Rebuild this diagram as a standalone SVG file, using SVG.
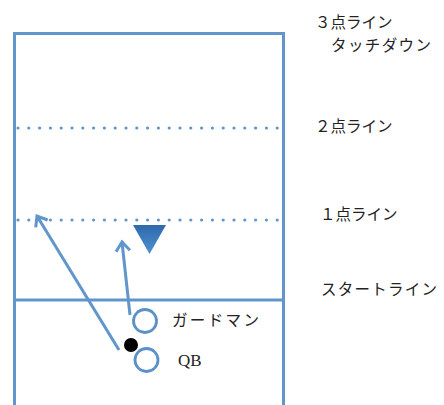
<svg xmlns="http://www.w3.org/2000/svg" width="444" height="405" viewBox="0 0 444 405">
<defs>
<style>
.ln{fill:none;stroke:#6096cc;stroke-width:3}
.dot{fill:none;stroke:#5f95cd;stroke-width:3.2;stroke-dasharray:0 10.8;stroke-linecap:round}
.lbl{font-family:"Liberation Serif","Noto Sans CJK JP",serif;font-size:15.5px;fill:#222}
.pl{fill:#fff;stroke:#5b90c8;stroke-width:2.8}
</style>
<linearGradient id="tg" x1="0" y1="0" x2="0" y2="1">
<stop offset="0" stop-color="#2e6aab"/>
<stop offset="1" stop-color="#4f8fd2"/>
</linearGradient>
<marker id="ah" markerUnits="userSpaceOnUse" markerWidth="24" markerHeight="24" refX="12" refY="12" orient="auto">
<path d="M3,5 L12,12 L3,19" fill="none" stroke="#6096cc" stroke-width="3" stroke-linejoin="miter"/>
</marker>
</defs>
<g id="field">
<rect class="ln" x="14.5" y="33.5" width="269" height="400"/>
<line class="ln" x1="14" y1="300" x2="284" y2="300"/>
<line class="dot" x1="18" y1="128" x2="280" y2="128"/>
<line class="dot" x1="18" y1="220" x2="280" y2="220"/>
</g>
<g id="labels">
<text class="lbl" x="315" y="28">３点ライン</text>
<text class="lbl" x="331" y="51" textLength="100">タッチダウン</text>
<text class="lbl" x="315" y="132">２点ライン</text>
<text class="lbl" x="320" y="220">１点ライン</text>
<text class="lbl" x="321" y="295" textLength="116">スタートライン</text>
</g>
<g id="marker-triangle">
<polygon points="133,225 166,225 149.5,254" fill="url(#tg)"/>
</g>
<g id="connectors">
<line class="ln" x1="119" y1="350" x2="37" y2="216" marker-end="url(#ah)"/>
<line class="ln" x1="130" y1="315" x2="122" y2="242" marker-end="url(#ah)"/>
</g>
<g id="guardman">
<circle class="pl" cx="145" cy="321" r="11.5"/>
<text class="lbl" x="172" y="326" textLength="87">ガードマン</text>
</g>
<g id="qb">
<circle class="pl" cx="146.5" cy="360" r="11.5"/>
<circle cx="131" cy="345" r="7" fill="#000"/>
<text class="lbl" x="178" y="366" style="font-size:17px">QB</text>
</g>
</svg>
